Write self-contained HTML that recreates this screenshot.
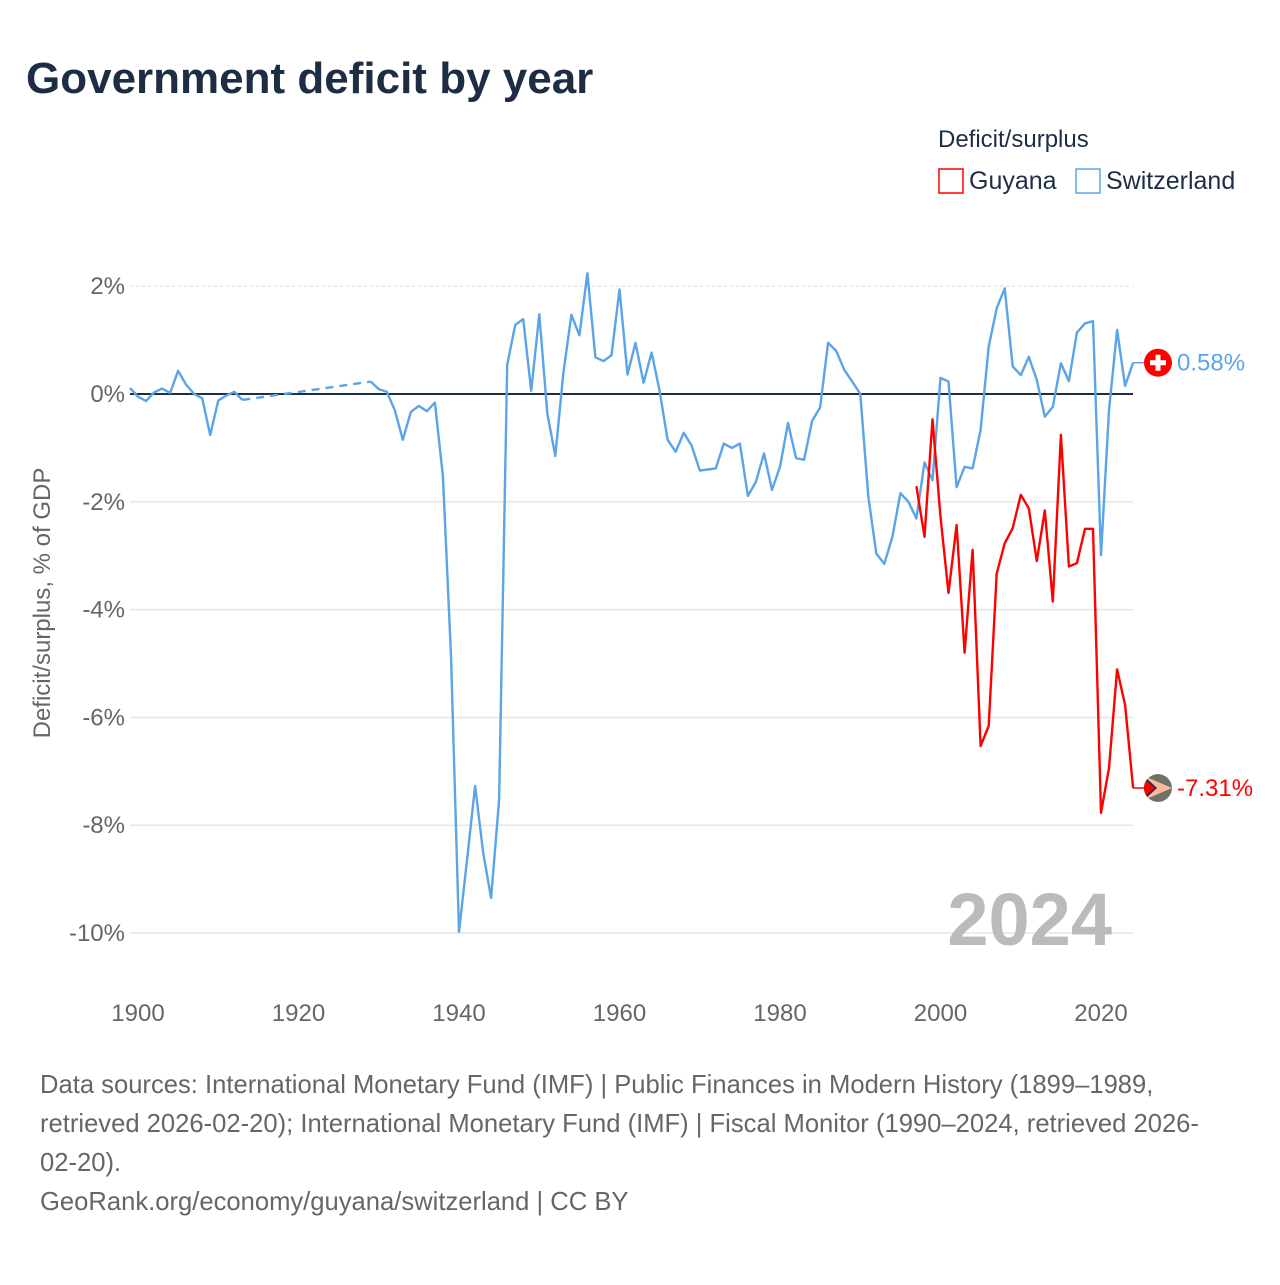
<!DOCTYPE html>
<html><head><meta charset="utf-8"><style>
body{margin:0;background:#fff;font-family:"Liberation Sans",sans-serif;}
svg text{font-family:"Liberation Sans",sans-serif;}
</style></head><body>
<svg width="1280" height="1280" xmlns="http://www.w3.org/2000/svg">
<defs><clipPath id="fc"><circle r="14"/></clipPath></defs>
<text x="26" y="93" font-size="44" font-weight="bold" fill="#1d2d44">Government deficit by year</text>
<g>
<text x="938" y="147" font-size="24" fill="#1d2d44">Deficit/surplus</text>
<g><rect x="939" y="169" width="24" height="24" fill="#fff" stroke="#ff0000" stroke-width="1.5"/><text x="969" y="189" font-size="25" fill="#1d2d44">Guyana</text></g>
<g><rect x="1076" y="169" width="24" height="24" fill="#fff" stroke="#5ba4e8" stroke-width="1.5"/><text x="1106" y="189" font-size="25" fill="#1d2d44">Switzerland</text></g>
</g>
<g id="grid"></g>
<g id="yticks"></g>
<g id="xticks"></g>
<text transform="translate(50,603) rotate(-90)" text-anchor="middle" font-size="24" fill="#666">Deficit/surplus, % of GDP</text>
<text x="1112" y="945" text-anchor="end" font-size="74" font-weight="bold" fill="#bbb">2024</text>
<g id="series"></g>
<g font-size="25.6" fill="#666">
<text x="40" y="1093">Data sources: International Monetary Fund (IMF) | Public Finances in Modern History (1899–1989,</text>
<text x="40" y="1132">retrieved 2026-02-20); International Monetary Fund (IMF) | Fiscal Monitor (1990–2024, retrieved 2026-</text>
<text x="40" y="1171">02-20).</text>
<text x="40" y="1210">GeoRank.org/economy/guyana/switzerland | CC BY</text>
</g>
</svg>
<script>
const swYears1=[1899,1900,1901,1902,1903,1904,1905,1906,1907,1908,1909,1910,1911,1912,1913];
const swVals1=[0.11,-0.05,-0.13,0.03,0.1,0.02,0.43,0.17,0,-0.08,-0.76,-0.12,-0.03,0.04,-0.11];
const swYears2=[1929,1930,1931,1932,1933,1934,1935,1936,1937,1938,1939,1940,1941,1942,1943,1944,1945,1946,1947,1948,1949,1950,1951,1952,1953,1954,1955,1956,1957,1958,1959,1960,1961,1962,1963,1964,1965,1966,1967,1968,1969,1970,1971,1972,1973,1974,1975,1976,1977,1978,1979,1980,1981,1982,1983,1984,1985,1986,1987,1988,1989,1990,1991,1992,1993,1994,1995,1996,1997,1998,1999,2000,2001,2002,2003,2004,2005,2006,2007,2008,2009,2010,2011,2012,2013,2014,2015,2016,2017,2018,2019,2020,2021,2022,2023,2024];
const swVals2=[0.23,0.09,0.04,-0.3,-0.85,-0.33,-0.22,-0.32,-0.16,-1.52,-4.85,-9.98,-8.65,-7.27,-8.5,-9.35,-7.53,0.54,1.28,1.39,0.06,1.48,-0.36,-1.15,0.38,1.47,1.09,2.24,0.68,0.61,0.72,1.94,0.36,0.95,0.21,0.77,0.06,-0.85,-1.07,-0.72,-0.96,-1.42,-1.4,-1.38,-0.92,-1.0,-0.92,-1.89,-1.63,-1.1,-1.78,-1.35,-0.54,-1.19,-1.22,-0.5,-0.25,0.95,0.8,0.45,0.23,0,-1.9,-2.96,-3.15,-2.65,-1.84,-2.0,-2.31,-1.27,-1.6,0.3,0.23,-1.73,-1.35,-1.38,-0.67,0.88,1.59,1.96,0.51,0.35,0.69,0.26,-0.42,-0.24,0.57,0.24,1.14,1.31,1.35,-2.99,-0.3,1.19,0.15,0.58];
const guYears=[1997,1998,1999,2000,2001,2002,2003,2004,2005,2006,2007,2008,2009,2010,2011,2012,2013,2014,2015,2016,2017,2018,2019,2020,2021,2022,2023,2024];
const guVals=[-1.71,-2.65,-0.47,-2.28,-3.69,-2.43,-4.8,-2.89,-6.53,-6.16,-3.33,-2.77,-2.49,-1.87,-2.12,-3.1,-2.16,-3.85,-0.76,-3.2,-3.14,-2.5,-2.5,-7.77,-6.94,-5.11,-5.77,-7.31];
const yTicks=[2,0,-2,-4,-6,-8,-10];
const yTickLabels=["2%","0%","-2%","-4%","-6%","-8%","-10%"];
const xTicks=[1900,1920,1940,1960,1980,2000,2020];

const NS="http://www.w3.org/2000/svg";
const X=y=>138+(y-1900)*8.025;
const Y=v=>394-v*53.9;
function mk(tag,attrs,parent){const e=document.createElementNS(NS,tag);for(const k in attrs)e.setAttribute(k,attrs[k]);parent.appendChild(e);return e;}
const grid=document.getElementById('grid'),yt=document.getElementById('yticks'),xt=document.getElementById('xticks'),ser=document.getElementById('series');
yTicks.forEach((v,i)=>{
  if(v!==0){const l=mk('line',{x1:130,x2:1133,y1:Y(v),y2:Y(v),stroke:'#e6e6e6','stroke-width':1.5,'stroke-dasharray':v===2?'3,3':'none'},grid);
  
  }
  const t=mk('text',{x:125,y:Y(v)+8,'text-anchor':'end','font-size':24,fill:'#666'},yt);t.textContent=yTickLabels[i];
  
  
});
xTicks.forEach(y=>{const t=mk('text',{x:X(y),y:1021,'text-anchor':'middle','font-size':24,fill:'#666'},xt);t.textContent=y;
  
  });
const zl=mk('line',{x1:130,x2:1133,y1:Y(0),y2:Y(0),stroke:'#1d2d44','stroke-width':2},grid);


function pts(ys,vs){return ys.map((y,i)=>X(y).toFixed(1)+','+Y(vs[i]).toFixed(1)).join(' ');}
const s1=mk('polyline',{points:pts(swYears1,swVals1),fill:'none',stroke:'#5ba4e8','stroke-width':2.4,'stroke-linejoin':'round'},ser);


const gap=mk('line',{x1:X(swYears1[swYears1.length-1]),y1:Y(swVals1[swVals1.length-1]),x2:X(swYears2[0]),y2:Y(swVals2[0]),stroke:'#5ba4e8','stroke-width':2.4,'stroke-dasharray':'8,6'},ser);


const s2=mk('polyline',{points:pts(swYears2,swVals2),fill:'none',stroke:'#5ba4e8','stroke-width':2.4,'stroke-linejoin':'round'},ser);


const g=mk('polyline',{points:pts(guYears,guVals),fill:'none',stroke:'#ff0000','stroke-width':2.4,'stroke-linejoin':'round'},ser);


const swLast=swVals2[swVals2.length-1],guLast=guVals[guVals.length-1];
const c1=mk('line',{x1:X(2024),x2:1144,y1:Y(swLast),y2:Y(swLast),stroke:'#5ba4e8','stroke-width':1.5},ser);


const c2=mk('line',{x1:X(2024),x2:1144,y1:Y(guLast),y2:Y(guLast),stroke:'#ff0000','stroke-width':1.5},ser);


const fs=mk('g',{transform:`translate(1158,${Y(swLast)})`},ser);


mk('circle',{r:14,fill:'#ff0000'},fs);mk('rect',{x:-2.5,y:-8,width:5,height:16,fill:'#fff'},fs);mk('rect',{x:-8,y:-2.5,width:16,height:5,fill:'#fff'},fs);
const sl=mk('text',{x:1177,y:Y(swLast)+8,'font-size':24,fill:'#5ba4e8'},ser);sl.textContent=swLast.toFixed(2)+'%';


const fg=mk('g',{transform:`translate(1158,${Y(guLast)})`},ser);


const fgi=mk('g',{'clip-path':'url(#fc)'},fg);
mk('circle',{r:14,fill:'#6d7168'},fgi);mk('polygon',{points:'-14,-12 14,0 -14,12',fill:'#fcb8a0'},fgi);mk('polygon',{points:'-14,-12 -1,0 -14,12',fill:'#1d2d44'},fgi);mk('polygon',{points:'-14,-9 -3,0 -14,9',fill:'#ff0000'},fgi);
const gl=mk('text',{x:1177,y:Y(guLast)+8,'font-size':24,fill:'#ff0000'},ser);gl.textContent=guLast.toFixed(2)+'%';


</script>
</body></html>
